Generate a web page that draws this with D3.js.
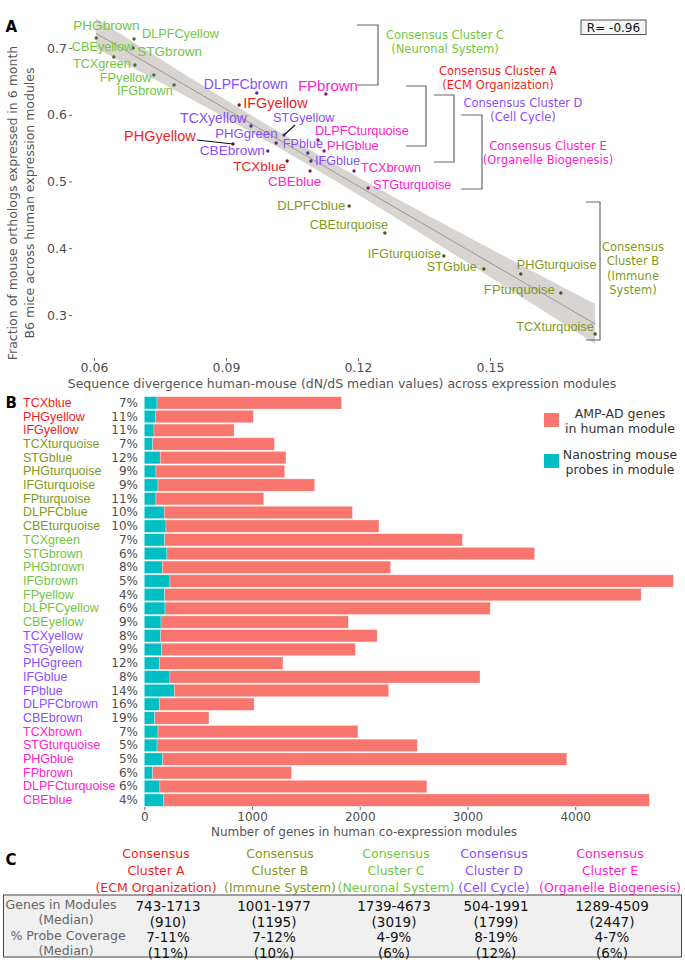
<!DOCTYPE html>
<html><head><meta charset="utf-8">
<script src="https://cdn.jsdelivr.net/npm/d3@7"></script>
<style>body{margin:0;background:#fff} svg{display:block}</style>
</head><body><svg id="c" width="685" height="960"></svg>
<script>
// ---------------- DATA ----------------
const clusterIds = ["A","B","C","D","E"];
const clusterColors = ["#F21D1D","#7F9A22","#72C63F","#8A4DFF","#FF22CC"];

// Panel A: module scatter
const modules = ["PHGbrown","DLPFCyellow","STGbrown","CBEyellow","TCXgreen","FPyellow","IFGbrown",
  "DLPFCbrown","FPbrown","IFGyellow","TCXyellow","STGyellow","PHGyellow","PHGgreen","CBEbrown","FPblue",
  "DLPFCturquoise","PHGblue","IFGblue","TCXblue","CBEblue","TCXbrown","STGturquoise",
  "DLPFCblue","CBEturquoise","IFGturquoise","STGblue","PHGturquoise","FPturquoise","TCXturquoise"];
const moduleCluster = ["C","C","C","C","C","C","C",
  "D","E","A","D","D","A","D","D","D",
  "E","E","D","A","E","E","E",
  "B","B","B","B","B","B","B"];
const dnds = [0.0605,0.0691,0.0689,0.0645,0.0693,0.0736,0.0782,
  0.0970,0.1127,0.0930,0.0957,0.1032,0.0916,0.1014,0.0995,0.1086,
  0.1109,0.1123,0.1093,0.1039,0.1091,0.1191,0.1223,
  0.1180,0.1261,0.1395,0.1486,0.1570,0.1661,0.1739];
const fracExpressed = [0.715,0.7135,0.700,0.6865,0.6745,0.6595,0.6445,
  0.6326,0.6311,0.6146,0.5831,0.5697,0.5562,0.5577,0.5457,0.5427,
  0.5622,0.5457,0.5307,0.5307,0.5157,0.5157,0.4903,
  0.4633,0.4228,0.3884,0.3689,0.3614,0.3330,0.2715];
const xTicksA = [0.06,0.09,0.12,0.15];
const yTicksA = [0.3,0.4,0.5,0.6,0.7];
const rText = "R= -0.96";
const bracketTitles = [
  ["C",["Consensus Cluster C","(Neuronal System)"]],
  ["A",["Consensus Cluster A","(ECM Organization)"]],
  ["D",["Consensus Cluster D","(Cell Cycle)"]],
  ["E",["Consensus Cluster E","(Organelle Biogenesis)"]],
  ["B",["Consensus","Cluster B","(Immune","System)"]]
];

// Panel B: stacked bars
const barModules = ["TCXblue","PHGyellow","IFGyellow","TCXturquoise","STGblue","PHGturquoise","IFGturquoise",
  "FPturquoise","DLPFCblue","CBEturquoise","TCXgreen","STGbrown","PHGbrown","IFGbrown","FPyellow",
  "DLPFCyellow","CBEyellow","TCXyellow","STGyellow","PHGgreen","IFGblue","FPblue","DLPFCbrown",
  "CBEbrown","TCXbrown","STGturquoise","PHGblue","FPbrown","DLPFCturquoise","CBEblue"];
const barCluster = ["A","A","A","B","B","B","B","B","B","B","C","C","C","C","C","C","C",
  "D","D","D","D","D","D","D","E","E","E","E","E","E"];
const mouseProbes = [118,102,90,78,148,108,127,108,185,201,189,210,167,238,189,192,155,
  152,161,139,238,278,139,96,127,118,170,78,145,180];
const humanGenes = [1713,910,743,1130,1167,1195,1455,1001,1747,1977,2764,3413,2119,4673,4423,3019,1739,
  2010,1799,1148,2878,1991,881,504,1856,2416,3752,1289,2478,4509];
const probePct = ["7%","11%","11%","7%","12%","9%","9%","11%","10%","10%","7%","6%","8%","5%","4%","6%","9%",
  "8%","9%","12%","8%","14%","16%","19%","7%","5%","5%","6%","6%","4%"];
const barTicks = [0,1000,2000,3000,4000];
const legendLabels = [["AMP-AD genes","in human module"],["Nanostring mouse","probes in module"]];

// Panel C: summary table
const tableHeaders = [["Consensus","Cluster A","(ECM Organization)"],["Consensus","Cluster B","(Immune System)"],
  ["Consensus","Cluster C","(Neuronal System)"],["Consensus","Cluster D","(Cell Cycle)"],
  ["Consensus","Cluster E","(Organelle Biogenesis)"]];
const tableRowLabels = ["Genes in Modules","(Median)","% Probe Coverage","(Median)"];
const geneRange = ["743-1713","1001-1977","1739-4673","504-1991","1289-4509"];
const geneMedian = ["(910)","(1195)","(3019)","(1799)","(2447)"];
const probeRange = ["7-11%","7-12%","4-9%","8-19%","4-7%"];
const probeMedian = ["(11%)","(10%)","(6%)","(12%)","(6%)"];

// ---------------- STYLE / LAYOUT ----------------
const col = k => clusterColors[clusterIds.indexOf(k)];
const AX = "DejaVu Sans", LB = "Liberation Sans";
const gray = "#555";
// ggrepel-like label offsets (px from the point: left edge, vertical centre)
const labelOffset = {
  PHGbrown:[-23,-12], DLPFCyellow:[8,-5], STGbrown:[4,3], CBEyellow:[-42,-10], TCXgreen:[-62,-1],
  FPyellow:[-54,3], IFGbrown:[-57,6], DLPFCbrown:[-53,-9], FPbrown:[-28,-8], IFGyellow:[4,-2],
  TCXyellow:[-71,-8], STGyellow:[-11,-17], PHGyellow:[-109,-8], PHGgreen:[-61,-9], CBEbrown:[-68,0],
  FPblue:[-25,-9], DLPFCturquoise:[-3,-9], PHGblue:[3,-5], IFGblue:[4,0], TCXblue:[-54,5],
  CBEblue:[-42,10], TCXbrown:[7,-3], STGturquoise:[5,-3], DLPFCblue:[-72,0], CBEturquoise:[-75,-8],
  IFGturquoise:[-76,-2], STGblue:[-57,-2], PHGturquoise:[-4,-9], FPturquoise:[-77,-3], TCXturquoise:[-79,-7]};
const labelSize = {FPbrown:15, IFGyellow:14.5, PHGyellow:14.5, TCXyellow:14, DLPFCbrown:14,
  PHGbrown:13.6, STGbrown:13.6, CBEbrown:13.6, TCXblue:13.6, CBEblue:13.5, PHGgreen:13.2, DLPFCblue:13.2, FPturquoise:13.2};
const segments = {PHGyellow:[-36,-4], STGyellow:[11,-10]};
const brackets = { // x of vertical, y0,y1, horizontal length, text centre x, first text line y
  C:[378,25,85,21,445,35], A:[426,86,146,20,498,71], D:[454,95,162,20,523,103],
  E:[482,115,189,21,548,146], B:[600,202,340,14,633,247]};

const svg = d3.select("#c");

// ---------------- PANEL A ----------------
const x = d3.scaleLinear().domain([0.06,0.15]).range([94,490]);
const y = d3.scaleLinear().domain([0.3,0.7]).range([315,48]);
const pts = modules.map((m,i)=>({m, c:moduleCluster[i], x:dnds[i], y:fracExpressed[i]}));

// regression + 95% CI
const n = pts.length, xb = d3.mean(pts,d=>d.x), yb = d3.mean(pts,d=>d.y);
const Sxx = d3.sum(pts,d=>(d.x-xb)**2), Sxy = d3.sum(pts,d=>(d.x-xb)*(d.y-yb));
const b = Sxy/Sxx, a = yb - b*xb;
const s = Math.sqrt(d3.sum(pts,d=>(d.y-(a+b*d.x))**2)/(n-2));
const tq = 2.048;
const [xmin,xmax] = d3.extent(pts,d=>d.x);
const grid = d3.range(0,81).map(k=>xmin+(xmax-xmin)*k/80).map(xx=>{
  const f=a+b*xx, se=s*Math.sqrt(1/n+(xx-xb)**2/Sxx); return {x:xx,f,lo:f-tq*se,hi:f+tq*se};});
svg.append("path").datum(grid).attr("fill","#D8D4D1")
  .attr("d",d3.area().x(d=>x(d.x)).y0(d=>y(d.lo)).y1(d=>y(d.hi)));
svg.append("path").datum(grid).attr("fill","none").attr("stroke","#999").attr("stroke-width",1)
  .attr("d",d3.line().x(d=>x(d.x)).y(d=>y(d.f)));

// axes
const yAx = svg.append("g").attr("transform","translate(72,0)")
  .call(d3.axisLeft(y).tickValues(yTicksA).tickSize(3).tickPadding(2).tickFormat(d3.format(".1f")));
const xAx = svg.append("g").attr("transform","translate(0,358)")
  .call(d3.axisBottom(x).tickValues(xTicksA).tickSize(3).tickPadding(2).tickFormat(d3.format(".2f")));
[yAx,xAx].forEach(g=>{g.select(".domain").remove();
  g.selectAll("line").attr("stroke","#666");
  g.selectAll("text").attr("fill","#4d4d4d").attr("font-family",AX).attr("font-size",12.5);});

svg.append("text").attr("x",342).attr("y",383).attr("text-anchor","middle").attr("dominant-baseline","central")
  .attr("font-family",AX).attr("font-size",12.5).attr("fill",gray)
  .text("Sequence divergence human-mouse (dN/dS median values) across expression modules");
const yt = svg.append("text").attr("transform","translate(13,203) rotate(-90)").attr("text-anchor","middle")
  .attr("font-family",AX).attr("font-size",12.5).attr("fill",gray);
yt.append("tspan").attr("x",0).attr("dy","0.35em").text("Fraction of mouse orthologs expressed in 6 month");
yt.append("tspan").attr("x",0).attr("dy","1.35em").text("B6 mice across human expression modules");

// segments, points, labels
pts.forEach(d=>{
  const px=x(d.x), py=y(d.y);
  if (segments[d.m]) svg.append("line").attr("x1",px).attr("y1",py)
      .attr("x2",px+segments[d.m][0]).attr("y2",py+segments[d.m][1]).attr("stroke","#111").attr("stroke-width",1.2);
});
svg.append("g").selectAll("circle").data(pts).join("circle")
  .attr("cx",d=>x(d.x)).attr("cy",d=>y(d.y)).attr("r",1.7)
  .attr("fill",d=>d3.color(col(d.c)).darker(1.6));
svg.append("g").selectAll("text").data(pts).join("text")
  .attr("x",d=>x(d.x)+labelOffset[d.m][0]).attr("y",d=>y(d.y)+labelOffset[d.m][1])
  .attr("dominant-baseline","central").attr("font-family",LB)
  .attr("font-size",d=>labelSize[d.m]||12.7).attr("fill",d=>col(d.c)).text(d=>d.m);

// brackets
bracketTitles.forEach(([k,lines])=>{
  const [bx,y0,y1,hl,tx,ty]=brackets[k];
  svg.append("path").attr("fill","none").attr("stroke","#666").attr("stroke-width",1.2)
    .attr("d",`M${bx-hl},${y0}H${bx}V${y1}H${bx-hl}`);
  lines.forEach((t,i)=>svg.append("text").attr("x",tx).attr("y",ty+i*14.4).attr("text-anchor","middle")
    .attr("dominant-baseline","central").attr("font-family",AX).attr("font-size",11.5).attr("fill",col(k)).text(t));
});
// R box
svg.append("rect").attr("x",581).attr("y",20).attr("width",65).attr("height",14.5)
  .attr("fill","#f4f4f4").attr("stroke","#555").attr("stroke-width",1);
svg.append("text").attr("x",613.5).attr("y",27.5).attr("text-anchor","middle").attr("dominant-baseline","central")
  .attr("font-family",AX).attr("font-size",12).attr("fill","#111").text(rText);

// panel letters
[["A",27],["B",403],["C",860]].forEach(([t,yy])=>svg.append("text").attr("x",5.5).attr("y",yy)
  .attr("dominant-baseline","central").attr("font-family",AX).attr("font-weight","bold").attr("font-size",15).text(t));

// ---------------- PANEL B ----------------
const yb2 = d3.scaleBand().domain(barModules).range([396,807]).paddingInner(0.1).paddingOuter(0.05);
const xb2 = d3.scaleLinear().domain([0,4000]).range([144.3,575.2]);
const rows = barModules.map((m,i)=>({m, c:barCluster[i], probes:mouseProbes[i], genes:humanGenes[i], pct:probePct[i]}));
const stack = d3.stack().keys(["probes","genes"])(rows);
const fills = {probes:"#00BFC4", genes:"#F8766D"};
stack.forEach(layer=>{
  svg.append("g").selectAll("rect").data(layer).join("rect")
    .attr("x",d=>xb2(d[0])).attr("width",d=>xb2(d[1])-xb2(d[0]))
    .attr("y",d=>yb2(d.data.m)).attr("height",yb2.bandwidth())
    .attr("fill",fills[layer.key]).attr("stroke","#fff").attr("stroke-opacity",0.45).attr("stroke-width",0.6);
});
svg.append("g").selectAll("text").data(rows).join("text")
  .attr("x",23).attr("y",d=>yb2(d.m)+yb2.bandwidth()/2).attr("dominant-baseline","central")
  .attr("font-family",LB).attr("font-size",12.5).attr("fill",d=>col(d.c)).text(d=>d.m);
svg.append("g").selectAll("text").data(rows).join("text")
  .attr("x",138).attr("y",d=>yb2(d.m)+yb2.bandwidth()/2).attr("dominant-baseline","central").attr("text-anchor","end")
  .attr("font-family",AX).attr("font-size",12).attr("fill","#4d4d4d").text(d=>d.pct);
const bAx = svg.append("g").attr("transform","translate(0,807)")
  .call(d3.axisBottom(xb2).tickValues(barTicks).tickSize(3).tickPadding(2).tickFormat(d3.format("d")));
bAx.select(".domain").remove();
bAx.selectAll("line").attr("stroke","#666");
bAx.selectAll("text").attr("fill","#4d4d4d").attr("font-family",AX).attr("font-size",12);
svg.append("text").attr("x",364).attr("y",832).attr("text-anchor","middle").attr("dominant-baseline","central")
  .attr("font-family",AX).attr("font-size",12).attr("fill",gray).text("Number of genes in human co-expression modules");
// legend
[["genes",413],["probes",454]].forEach(([k,yy],i)=>{
  svg.append("rect").attr("x",544).attr("y",yy).attr("width",15).attr("height",14).attr("fill",fills[k]);
  legendLabels[i].forEach((t,j)=>svg.append("text").attr("x",620).attr("y",yy+j*15).attr("text-anchor","middle")
    .attr("dominant-baseline","central").attr("font-family",AX).attr("font-size",12.5).attr("fill","#333").text(t));
});

// ---------------- PANEL C ----------------
const headerX = [156,280,396,494,610], valueX = [168,274,394,496,612];
tableHeaders.forEach((lines,i)=>lines.forEach((t,j)=>svg.append("text").attr("x",headerX[i]).attr("y",853+j*17)
  .attr("text-anchor","middle").attr("dominant-baseline","central").attr("font-family",AX).attr("font-size",12.5)
  .attr("fill",clusterColors[i]).text(t)));
svg.append("rect").attr("x",3.5).attr("y",895).attr("width",678).attr("height",62)
  .attr("fill","#F0F0F0").attr("stroke","#444").attr("stroke-width",1);
const rowY = [904,919.5,935,950.5];
const labelX = [61,66,68,66];
tableRowLabels.forEach((t,i)=>svg.append("text").attr("x",labelX[i]).attr("y",rowY[i]).attr("text-anchor","middle")
  .attr("dominant-baseline","central").attr("font-family",AX).attr("font-size",12.5).attr("fill","#666").text(t));
[geneRange,geneMedian,probeRange,probeMedian].forEach((arr,r)=>arr.forEach((t,i)=>
  svg.append("text").attr("x",valueX[i]).attr("y",rowY[r]+2).attr("text-anchor","middle").attr("dominant-baseline","central")
  .attr("font-family",AX).attr("font-size",13.5).attr("fill","#111").text(t)));
</script></body></html>
